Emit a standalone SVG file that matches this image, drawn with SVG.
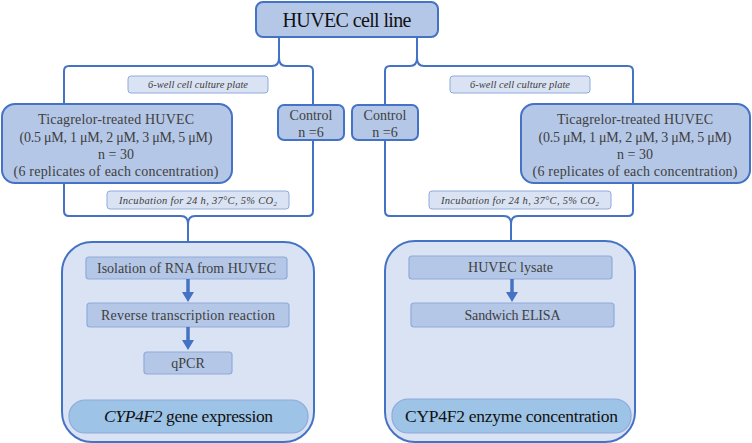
<svg xmlns="http://www.w3.org/2000/svg" width="752" height="443" viewBox="0 0 752 443">
<style>
.node{fill:#b4c7e7;stroke:#4472c4;stroke-width:2}
.lbl{fill:#dae3f3;stroke:#8faadc;stroke-width:1}
.big{fill:#dae3f3;stroke:#4472c4;stroke-width:2}
.step{fill:#b4c7e7;stroke:#8faadc;stroke-width:1.2}
.pill{fill:#9dc3e6;stroke:#8faadc;stroke-width:1.2}
.conn{fill:none;stroke:#4472c4;stroke-width:2}
.t{font-family:"Liberation Serif","DejaVu Serif",serif;fill:#404040;text-anchor:middle}
.ti{font-family:"Liberation Serif","DejaVu Serif",serif;font-style:italic;fill:#404040;text-anchor:middle;font-size:10.5px}
.h{font-family:"Liberation Serif","DejaVu Serif",serif;fill:#111;text-anchor:middle}
.arr{stroke:#4472c4;stroke-width:3.5}
.ah{fill:#4472c4}
</style>
<g id="connectors">
<path class="conn" d="M64,104 V71 Q64,66 69,66 H272 Q279,66 279,58 V37 M279,58 Q279,66 286,66 H308 Q313,66 313,71 V105"/>
<path class="conn" d="M385,105 V71 Q385,66 390,66 H410 Q417,66 417,58 V37 M417,58 Q417,66 424,66 H628 Q633,66 633,71 V104"/>
<path class="conn" d="M64,183 V211 Q64,216 69,216 H181 Q188,216 188,224 V243 M188,224 Q188,216 195,216 H308 Q313,216 313,211 V140"/>
<path class="conn" d="M385,140 V211 Q385,216 390,216 H504 Q511,216 511,224 V242 M511,224 Q511,216 518,216 H628 Q633,216 633,211 V183"/>
</g>
<g id="huvec">
<rect class="node" x="256" y="2" width="182" height="35" rx="7"/>
<text class="h" x="347" y="27" font-size="20" textLength="129">HUVEC cell line</text>
</g>
<g id="plate-left">
<rect class="lbl" x="128" y="76" width="140" height="17" rx="3"/>
<text class="ti" x="198" y="88" textLength="100">6-well cell culture plate</text>
</g>
<g id="plate-right">
<rect class="lbl" x="450" y="76" width="140" height="17" rx="3"/>
<text class="ti" x="520" y="88" textLength="100">6-well cell culture plate</text>
</g>
<g id="tica-left">
<rect class="node" x="2" y="104" width="230" height="79" rx="13"/>
<text class="t" font-size="14" x="116" y="124" textLength="156">Ticagrelor-treated HUVEC</text>
<text class="t" font-size="14" x="116" y="142" textLength="193">(0.5 μM, 1 μM, 2 μM, 3 μM, 5 μM)</text>
<text class="t" font-size="14" x="116" y="159">n = 30</text>
<text class="t" font-size="14" x="116" y="176" textLength="205">(6 replicates of each concentration)</text>
</g>
<g id="control-left">
<rect class="node" x="278" y="105" width="66" height="35" rx="6"/>
<text class="t" font-size="14" x="311" y="120">Control</text>
<text class="t" font-size="14" x="311" y="137">n =6</text>
</g>
<g id="control-right">
<rect class="node" x="352" y="105" width="66" height="35" rx="6"/>
<text class="t" font-size="14" x="385" y="120">Control</text>
<text class="t" font-size="14" x="385" y="137">n =6</text>
</g>
<g id="tica-right">
<rect class="node" x="521" y="104" width="229" height="79" rx="13"/>
<text class="t" font-size="14" x="635" y="124" textLength="156">Ticagrelor-treated HUVEC</text>
<text class="t" font-size="14" x="635" y="142" textLength="193">(0.5 μM, 1 μM, 2 μM, 3 μM, 5 μM)</text>
<text class="t" font-size="14" x="635" y="159">n = 30</text>
<text class="t" font-size="14" x="635" y="176" textLength="205">(6 replicates of each concentration)</text>
</g>
<g id="incub-left">
<rect class="lbl" x="107" y="191" width="182" height="18" rx="3"/>
<text class="ti" x="198" y="204" textLength="158">Incubation for 24  h, 37°C,  5% CO<tspan font-size="7" dy="2">2</tspan></text>
</g>
<g id="incub-right">
<rect class="lbl" x="429" y="191" width="182" height="18" rx="3"/>
<text class="ti" x="520" y="204" textLength="158">Incubation for 24  h, 37°C,  5% CO<tspan font-size="7" dy="2">2</tspan></text>
</g>
<g id="gene-panel">
<rect class="big" x="62" y="242" width="252" height="200" rx="30"/>
<rect class="step" x="86" y="257" width="201" height="22" rx="3"/>
<text class="t" font-size="14" x="186.5" y="273" textLength="179">Isolation of RNA from HUVEC</text>
<line class="arr" x1="188" y1="279" x2="188" y2="294"/>
<polygon class="ah" points="182,292 194,292 188,302"/>
<rect class="step" x="87" y="303" width="202" height="24" rx="3"/>
<text class="t" font-size="14" x="188" y="320" textLength="174">Reverse transcription reaction</text>
<line class="arr" x1="188" y1="327" x2="188" y2="342"/>
<polygon class="ah" points="182,340 194,340 188,350"/>
<rect class="step" x="144" y="352" width="88" height="22" rx="3"/>
<text class="t" font-size="14" x="188" y="368">qPCR</text>
<rect class="pill" x="69" y="400" width="239" height="33" rx="16"/>
<text class="h" font-size="17.5" x="188.5" y="422" textLength="169"><tspan font-style="italic">CYP4F2</tspan> gene expression</text>
</g>
<g id="enzyme-panel">
<rect class="big" x="385" y="241" width="250" height="201" rx="30"/>
<rect class="step" x="409" y="256" width="203" height="23" rx="3"/>
<text class="t" font-size="14" x="510.5" y="272" textLength="85">HUVEC lysate</text>
<line class="arr" x1="512" y1="279" x2="512" y2="294"/>
<polygon class="ah" points="506,292 518,292 512,302"/>
<rect class="step" x="411" y="303" width="203" height="24" rx="3"/>
<text class="t" font-size="14" x="512.5" y="320" textLength="96">Sandwich ELISA</text>
<rect class="pill" x="392" y="399" width="239" height="34" rx="16"/>
<text class="h" font-size="17.5" x="511.5" y="422" textLength="213">CYP4F2 enzyme concentration</text>
</g>
</svg>
